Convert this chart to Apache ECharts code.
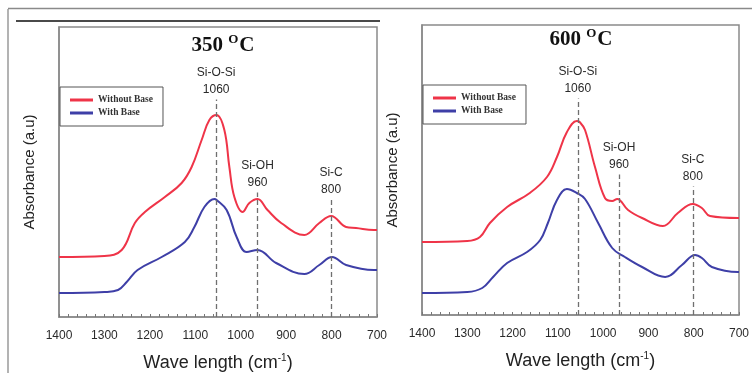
<!DOCTYPE html>
<html>
<head>
<meta charset="utf-8">
<script src="https://cdn.jsdelivr.net/npm/echarts@6/dist/echarts.min.js"></script>
<style>
	html, body { margin: 0; padding: 0; background: #fff; }
	#main { width: 752px; height: 373px; }
</style>
</head>
<body>
<div id="main"></div>
<script>
// 数据 (wavenumber, absorbance a.u.)
var red350 = [[1400,60],[1300,61],[1262,67],[1233,94],[1211,105],[1167,120],[1130,134],[1108,150],[1086,177],[1069,197],[1053,202],[1036,187],[1025,150],[1014,120],[996,105],[981,114],[963,118],[941,107],[911,94],[860,82],[827,94],[801,101],[768,90],[746,89],[707,87],[700,87]];
var blue350 = [[1400,24],[1300,25],[1270,27],[1251,35],[1227,47],[1174,60],[1123,75],[1102,90],[1080,110],[1058,118],[1053,117],[1031,107],[1009,80],[987,65],[963,67],[922,54],[860,43],[827,52],[799,60],[768,52],[707,47],[700,47]];
var red600 = [[1400,73],[1300,74],[1272,78],[1250,92],[1212,108],[1162,122],[1124,138],[1102,158],[1080,183],[1058,194],[1052,193],[1040,185],[1018,148],[996,117],[980,114],[969,116],[945,105],[914,97],[868,89],[835,102],[802,111],[782,107],[764,99],[702,97],[700,97]];
var blue600 = [[1400,22],[1300,23],[1267,27],[1243,38],[1212,52],[1168,63],[1139,75],[1122,92],[1102,115],[1080,126],[1058,122],[1040,116],[1011,92],[980,67],[952,58],[914,48],[863,38],[826,50],[797,60],[782,57],[760,48],[702,43],[700,43]];

var seriesNames = ['Without Base', 'With Base'];
var bandNames = ['Si-O-Si', 'Si-OH', 'Si-C'];
var bandLabels = ['1060', '960', '800'];
var bandPos350 = [1054, 963, 801];
var bandTop350 = [217.5, 124.5, 117.5];
var bandPos600 = [1056, 965, 802];
var bandTop600 = [216.5, 140.5, 128.5];
var xTicks = [1400, 1300, 1200, 1100, 1000, 900, 800, 700];

var redColor = '#ef3448';
var blueColor = '#3e3fa7';

function bandLines(pos, top) {
	var out = [];
	for (var i = 0; i < pos.length; i++) {
		out.push([
			{ coord: [pos[i], 0], name: bandNames[i] + '\n' + bandLabels[i] },
			{ coord: [pos[i], top[i]] }
		]);
	}
	return out;
}

function xAxis(idx) {
	return {
		gridIndex: idx,
		type: 'value',
		min: 700,
		max: 1400,
		interval: 100,
		inverse: true,
		name: '{n|Wave length (cm}{s|-1}{n|)}',
		nameLocation: 'middle',
		nameGap: 36,
		nameTextStyle: {
			rich: {
				n: { fontFamily: 'Liberation Sans', fontSize: 18, color: '#222' },
				s: { fontFamily: 'Liberation Sans', fontSize: 10, color: '#222', padding: [0, 0, 10, 0] }
			}
		},
		axisLine: { show: true, lineStyle: { color: '#8a8a8a', width: 1.5 } },
		axisTick: { show: true, inside: true, length: 3, lineStyle: { color: '#777' } },
		minorTick: { show: true, splitNumber: 5, length: 3, lineStyle: { color: '#777' } },
		axisLabel: {
			margin: 13,
			fontFamily: 'Liberation Sans',
			fontSize: 12,
			color: '#2a2a2a',
			formatter: function (v) { return xTicks.indexOf(v) >= 0 ? String(v) : ''; }
		},
		splitLine: { show: false }
	};
}

function yAxis(idx) {
	return {
		gridIndex: idx,
		type: 'value',
		min: 0,
		max: 290,
		name: 'Absorbance (a.u)',
		nameLocation: 'middle',
		nameGap: 22,
		nameTextStyle: { fontFamily: 'Liberation Sans', fontSize: 15, color: '#222' },
		axisLine: { show: true, lineStyle: { color: '#8a8a8a', width: 1.5 } },
		axisTick: { show: false },
		axisLabel: { show: false },
		splitLine: { show: false }
	};
}

function curve(name, data, color, idx, marks) {
	var s = {
		name: name,
		type: 'line',
		xAxisIndex: idx,
		yAxisIndex: idx,
		data: data,
		smooth: 0.4,
		symbol: 'none',
		color: color,
		lineStyle: { color: color, width: 2 },
		z: 3
	};
	if (marks) {
		s.markLine = {
			silent: true,
			symbol: 'none',
			animation: false,
			lineStyle: { color: '#6f6f6f', type: [5, 3], width: 1.3 },
			label: {
				show: true,
				position: 'end',
				distance: 1,
				formatter: '{b}',
				fontFamily: 'Liberation Sans',
				fontSize: 12,
				lineHeight: 17,
				color: '#2a2a2a'
			},
			data: marks
		};
	}
	return s;
}

function legend(left, top) {
	return {
		orient: 'vertical',
		left: left,
		top: top,
		data: seriesNames,
		icon: 'rect',
		itemWidth: 23,
		itemHeight: 3,
		itemGap: 3,
		padding: [8, 10, 8, 10],
		borderColor: '#555',
		borderWidth: 1,
		selectedMode: false,
		textStyle: { fontFamily: 'Liberation Serif', fontWeight: 'bold', fontSize: 9.5, lineHeight: 10, color: '#333' }
	};
}

function heading(text, x, y) {
	return {
		type: 'text',
		x: x,
		y: y,
		style: {
			text: '{a|' + text + ' }{b|O}{a|C}',
			align: 'center',
			verticalAlign: 'middle',
			rich: {
				a: { fontFamily: 'Liberation Serif', fontWeight: 'bold', fontSize: 21, fill: '#111', color: '#111' },
				b: { fontFamily: 'Liberation Serif', fontWeight: 'bold', fontSize: 13, fill: '#111', color: '#111', padding: [0, 1, 13, 0] }
			}
		}
	};
}

var chart = echarts.init(document.getElementById('main'), null, { renderer: 'canvas' });
chart.setOption({
	backgroundColor: '#fff',
	animation: false,
	grid: [
		{ left: 59, top: 27, width: 318, height: 290, outerBoundsMode: 'none', show: true, borderColor: '#8a8a8a', borderWidth: 1.5 },
		{ left: 422, top: 25, width: 317, height: 290, outerBoundsMode: 'none', show: true, borderColor: '#8a8a8a', borderWidth: 1.5 }
	],
	xAxis: [xAxis(0), xAxis(1)],
	yAxis: [yAxis(0), yAxis(1)],
	legend: [legend(60, 87), legend(423, 85)],
	series: [
		curve(seriesNames[0], red350, redColor, 0, bandLines(bandPos350, bandTop350)),
		curve(seriesNames[1], blue350, blueColor, 0),
		curve(seriesNames[0], red600, redColor, 1, bandLines(bandPos600, bandTop600)),
		curve(seriesNames[1], blue600, blueColor, 1)
	],
	graphic: [
		// 外框
		{ type: 'line', shape: { x1: 8, y1: 9, x2: 8, y2: 373 }, style: { stroke: '#9a9a9a', lineWidth: 1.5 } },
		{ type: 'line', shape: { x1: 8, y1: 8.5, x2: 752, y2: 8.5 }, style: { stroke: '#8a8a8a', lineWidth: 1.5 } },
		{ type: 'line', shape: { x1: 16, y1: 21, x2: 380, y2: 21 }, style: { stroke: '#4a4a4a', lineWidth: 2 } },
		heading('350', 223, 46),
		heading('600', 581, 40)
	]
});
</script>
</body>
</html>
